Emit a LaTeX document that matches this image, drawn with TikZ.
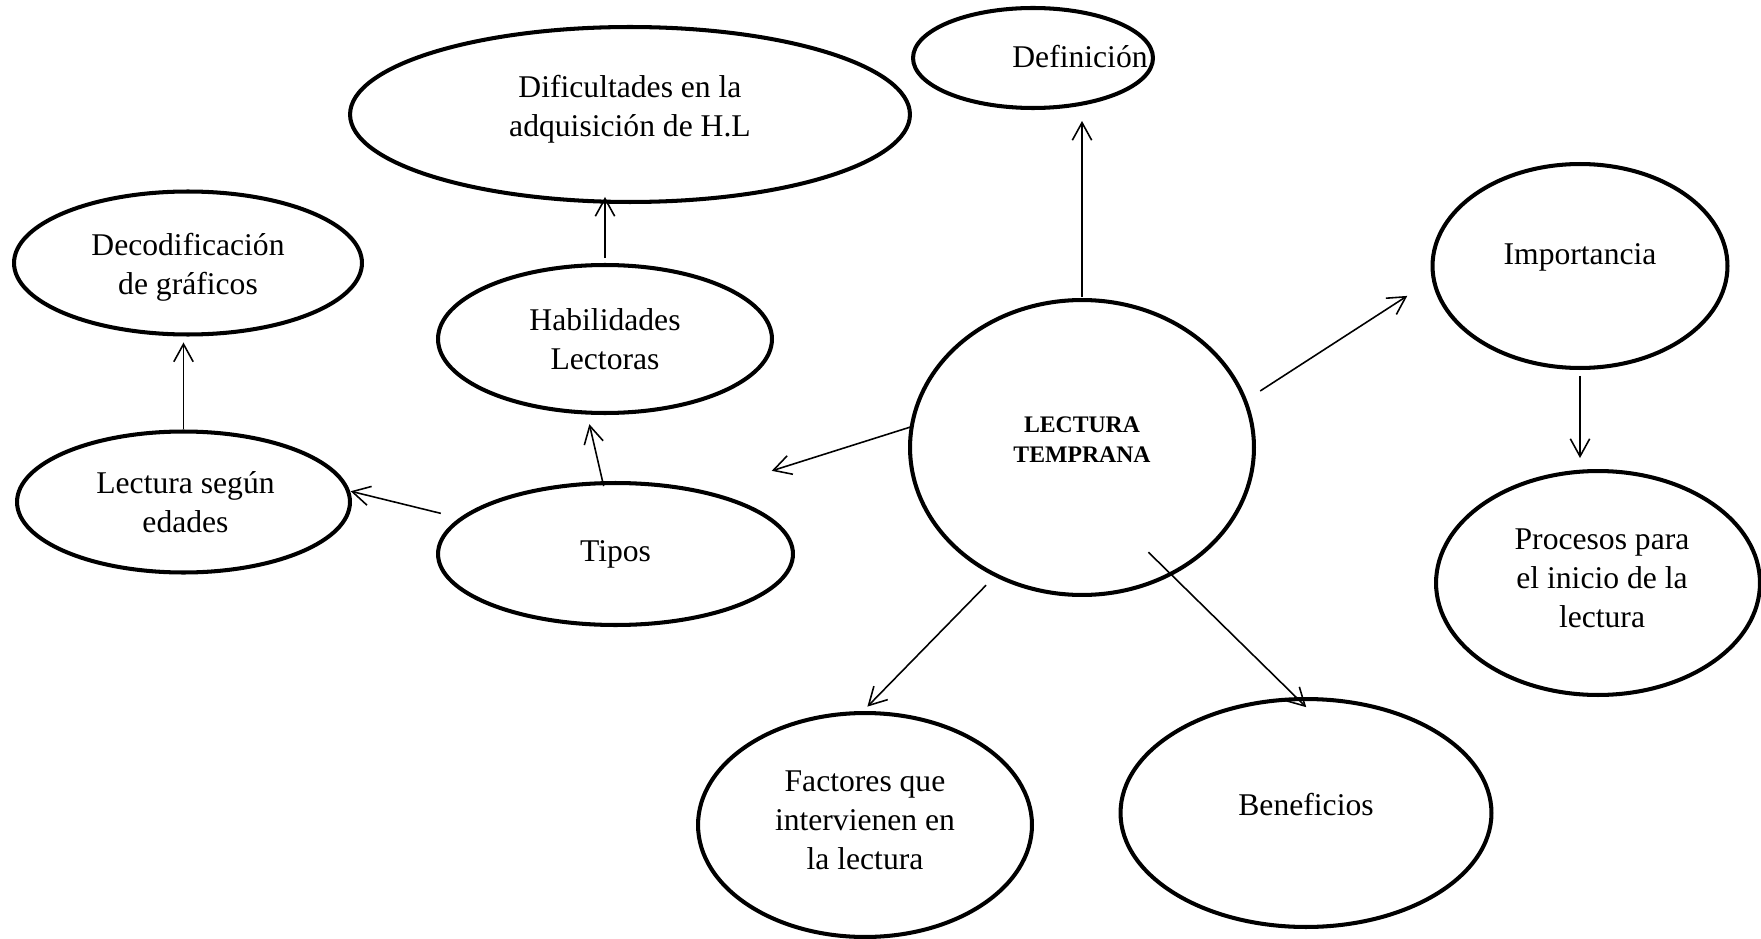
\documentclass[tikz,border=0pt]{standalone}
\usepackage{fontspec}
\setmainfont{Liberation Serif}
\usetikzlibrary{calc,shapes.geometric,arrows.meta}
\newlength\pxu
\setlength\pxu{0.02cm}

\begin{document}
\begin{tikzpicture}[x=0.02cm,y=-0.02cm]

\tikzset{concept/.style={ellipse,draw,line width=2.3pt,inner sep=0pt,outer sep=0pt},
conceptlabel/.style={font=\fontsize{18}{22.2}\selectfont,align=center,inner sep=0pt},
link/.style={line width=0.9pt,-{Straight Barb[length=10pt,width=11pt]}}}

\useasboundingbox (0,0) rectangle (1761,939);

% Central node
\node (lt) [concept,minimum width=6.88cm,minimum height=5.9cm] at (1082,447.5) {};

% Upper nodes
\node (def) [concept,minimum width=4.8cm,minimum height=2.0cm] at (1033,58) {};
\node (dif) [concept,minimum width=11.2cm,minimum height=3.5cm] at (630,114.5) {};
\node (hab) [concept,minimum width=6.68cm,minimum height=2.96cm] at (605,339) {};
\node (dec) [concept,minimum width=6.96cm,minimum height=2.86cm] at (188,263) {};

% Left nodes
\node (edad) [concept,minimum width=6.66cm,minimum height=2.82cm] at (183.5,502) {};
\node (tip) [concept,minimum width=7.1cm,minimum height=2.84cm] at (615.5,554) {};

% Right and lower nodes
\node (imp) [concept,minimum width=5.9cm,minimum height=4.08cm] at (1580,266) {};
\node (pro) [concept,minimum width=6.48cm,minimum height=4.48cm] at (1598,583) {};
\node (fac) [concept,minimum width=6.68cm,minimum height=4.48cm] at (865,825) {};
\node (ben) [concept,minimum width=7.42cm,minimum height=4.56cm] at (1306,813) {};

% Labels
\foreach \u/\dx/\dy/\lab in {def/47/-1/Definición, dif/0/-5.5/{Dificultades en la\\adquisición de H.L},
	hab/0/0/{Habilidades\\Lectoras}, dec/0/4/{Decodificación\\de gráficos},
	edad/2/0/{Lectura según\\edades}, tip/0/0/Tipos, imp/0/-9/Importancia,
	pro/4/-5/{Procesos para\\el inicio de la\\lectura}, fac/0/-5/{Factores que\\intervienen en\\la lectura},
	ben/0/-8/Beneficios}
	\node[conceptlabel] (\u-lab) at ($(\u)+(\dx,\dy)$) {\lab};
\node[conceptlabel,font=\bfseries\fontsize{13.5}{17}\selectfont] (lt-lab) at ($(lt)+(0,-8)$) {LECTURA\\TEMPRANA};

%% Edges
\foreach \a/\b/\s/\e in {lt.16/imp.185/18/31.5, lt.236/fac.92/14/9, lt.305/ben.94/-31/-11.5,
	lt.173/tip.35/0/71.5, tip.100/hab.256/-3/12, tip.167/edad.4/21.6/3}
	\draw[link,shorten <=\s\pxu,shorten >=\e\pxu] (\a) -- (\b);

% Vertical edges
\foreach \a/\b/\s/\e in {lt/def/3/13, hab/dif/7/-5, edad/dec/2.5/8}
	\draw[link,shorten <=\s\pxu,shorten >=\e\pxu] (\a.north) -- (\a.north |- \b.south);
\draw[link,shorten <=8\pxu,shorten >=13\pxu] (imp.south) -- (imp.south |- pro.north);
\end{tikzpicture}
\end{document}
